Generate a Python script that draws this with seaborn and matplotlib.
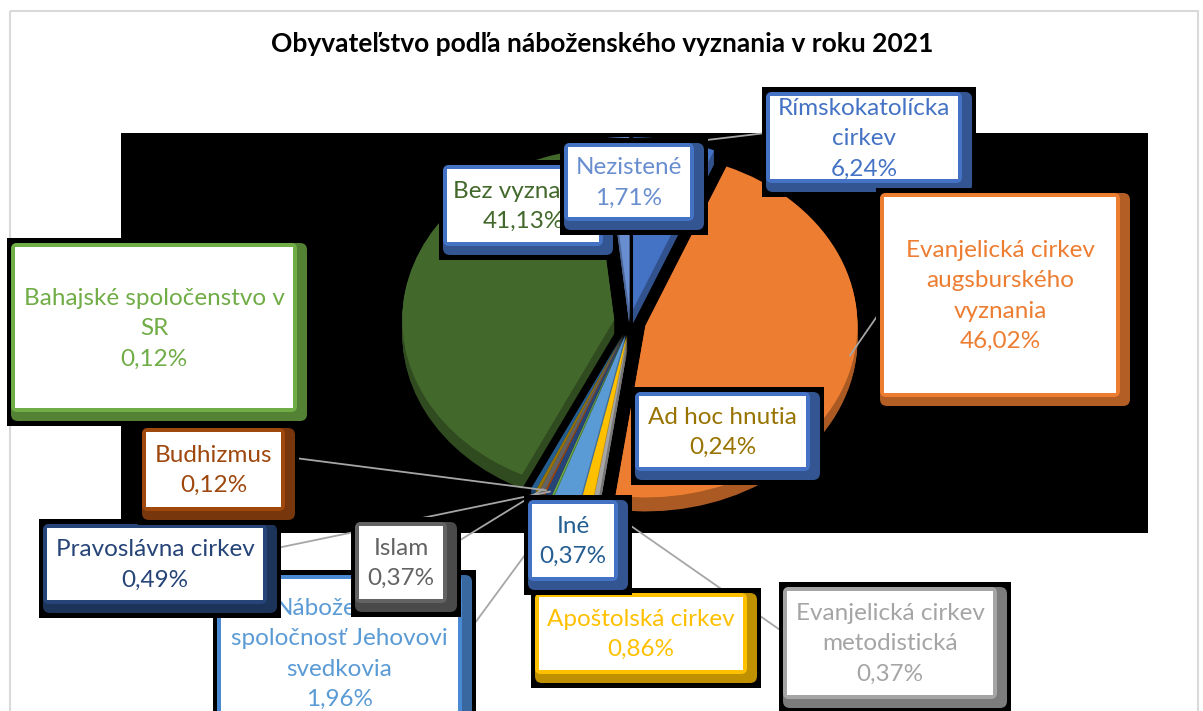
import numpy as np
import matplotlib.pyplot as plt
import matplotlib.colors as mcolors
from matplotlib.patches import Rectangle, FancyBboxPatch, Wedge
from matplotlib.transforms import Affine2D
import seaborn as sns

sns.set_theme(style="white")
plt.rcParams['font.family'] = ['Lato', 'DejaVu Sans']

title = "Obyvateľstvo podľa náboženského vyznania v roku 2021"

# order as in the source table (Excel draws clockwise from 12 o'clock)
names = [
    "Rímskokatolícka\ncirkev",
    "Evanjelická cirkev\naugsburského\nvyznania",
    "Evanjelická cirkev\nmetodistická",
    "Apoštolská cirkev",
    "Náboženská\nspoločnosť Jehovovi\nsvedkovia",
    "Bahajské spoločenstvo v\nSR",
    "Pravoslávna cirkev",
    "Budhizmus",
    "Islam",
    "Ad hoc hnutia",
    "Iné",
    "Bez vyznania",
    "Nezistené",
]
shares = [6.24, 46.02, 0.37, 0.86, 1.96, 0.12, 0.49, 0.12, 0.37, 0.24, 0.37, 41.13, 1.71]
slice_colors = ["#4472C4", "#ED7D31", "#A5A5A5", "#FFC000", "#5B9BD5", "#70AD47",
                "#264478", "#9E480E", "#636363", "#997300", "#255E91", "#43682B", "#698ED0"]
frame_colors = ["#4472C4", "#ED7D31", "#A5A5A5", "#FFC000", "#4A8AD4", "#70AD47",
                "#264478", "#9E480E", "#636363", "#4472C4", "#4472C4", "#4472C4", "#4472C4"]

# layout in picture pixels (y down)
W, H = 1203, 711
cx, cy, rx, ry = 630, 322, 212, 172
expl = 16
depth = 14
boxes = [(766, 92, 972, 192), (880, 193, 1130, 406), (783, 587, 1007, 708),
         (535, 593, 757, 683), (217, 575, 472, 740), (11, 243, 307, 421),
         (43, 524, 277, 613), (142, 428, 295, 520), (355, 522, 457, 612),
         (635, 392, 820, 480), (528, 500, 628, 590), (443, 165, 613, 255),
         (564, 143, 704, 230)]
# where leader lines leave the label boxes, and where along the slice arc they land
anchors = {0: ((766, 133), 0.5), 1: ((880, 312), 0.47), 2: ((783, 632), 0.5),
           4: ((472, 627), 0.5), 6: ((277, 548), 0.5), 7: ((295, 458), 0.5),
           8: ((457, 542), 0.5)}


def darker(c, f):
    r, g, b = mcolors.to_rgb(c)
    return (r * f, g * f, b * f)


fig = plt.figure(figsize=(W / 100, H / 100), dpi=100)
ax = fig.add_axes([0, 0, 1, 1])

wedges, _ = ax.pie(shares, colors=slice_colors, startangle=-90, counterclock=True,
                   radius=rx, center=(cx, cy), explode=[expl] * len(shares),
                   wedgeprops=dict(linewidth=0))
ax.set_xlim(0, W)
ax.set_ylim(H, 0)
ax.set_aspect('auto')
ax.axis('off')

# squash the pie vertically (fake 3D tilt)
squash = Affine2D().translate(-cx, -cy).scale(1, ry / rx).translate(cx, cy)
for w in wedges:
    w.set_transform(squash + ax.transData)
    w.set_zorder(3)

# pie thickness
for k in range(depth, 0, -1):
    for w, c in zip(wedges, slice_colors):
        ax.add_patch(Wedge(w.center, w.r, w.theta1, w.theta2, fc=darker(c, 0.72), lw=0,
                           transform=squash + Affine2D().translate(0, k) + ax.transData,
                           zorder=2))

# black plot area
ax.add_patch(Rectangle((121, 133), 1148 - 121, 533 - 133, fc='black', lw=0, zorder=0))
# chart border
ax.add_patch(Rectangle((10, 11), 1188, 720, fill=False, ec='#D9D9D9', lw=1.5, zorder=1))

# leader lines
for i, ((lx, ly), f) in anchors.items():
    w = wedges[i]
    a = np.deg2rad(w.theta1 + f * (w.theta2 - w.theta1))
    tip = squash.transform((w.center[0] + w.r * 0.98 * np.cos(a),
                            w.center[1] + w.r * 0.98 * np.sin(a)))
    ax.plot([lx, tip[0]], [ly, tip[1]], color='#A6A6A6', lw=1.3, zorder=5)

# data labels
for i, (x0, y0, x1, y1) in enumerate(boxes):
    z = 10 + 5 * i
    ax.add_patch(Rectangle((x0 - 4, y0 - 5), x1 - x0 + 8, y1 - y0 + 10, fc='black', lw=0, zorder=z))
    ax.add_patch(FancyBboxPatch((x0, y0), x1 - x0, y1 - y0,
                                boxstyle='round,pad=0,rounding_size=7',
                                fc=darker(frame_colors[i], 0.75), lw=0, zorder=z + 1))
    ax.add_patch(FancyBboxPatch((x0, y0), x1 - x0 - 10, y1 - y0 - 9,
                                boxstyle='round,pad=0,rounding_size=6',
                                fc=frame_colors[i], lw=0, zorder=z + 2))
    ax.add_patch(Rectangle((x0 + 4, y0 + 4), x1 - x0 - 18, y1 - y0 - 17, fc='white', lw=0, zorder=z + 3))
    txt = names[i] + "\n" + f"{shares[i]:.2f}%".replace('.', ',')
    ax.text((x0 + x1 - 10) / 2, (y0 + y1 - 9) / 2 + 1, txt, ha='center', va='center',
            color=slice_colors[i], fontsize=17.5, linespacing=1.55, zorder=z + 4)

ax.text(602, 44, title, ha='center', va='center', fontsize=19, fontweight='bold', color='black')

plt.savefig('out.png', dpi=100)
